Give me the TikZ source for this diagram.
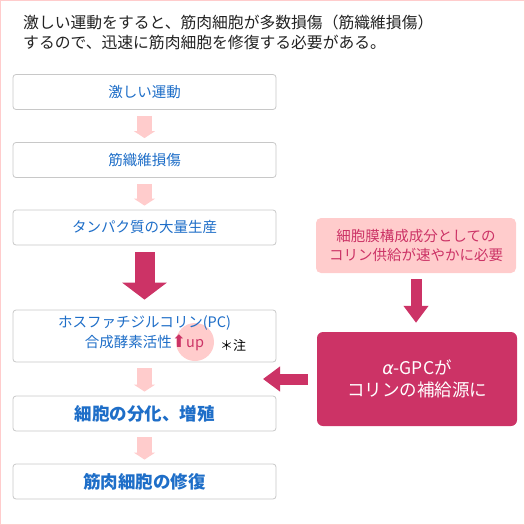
\documentclass[tikz,border=0pt]{standalone}
\usepackage{fontspec}
\setmainfont{Noto Sans CJK JP}
\newfontfamily\symfont{DejaVu Sans}
\usepackage{tikz}
\usetikzlibrary{arrows.meta, positioning}
\usepackage{xcolor}
\definecolor{zrose}{RGB}{204, 51, 102}
\definecolor{zpink}{RGB}{255, 204, 204}
\definecolor{zblue}{RGB}{30, 110, 200}
\definecolor{zline}{RGB}{200, 200, 200}
\definecolor{zink}{RGB}{34, 34, 34}

\begin{document}
\begin{tikzpicture}[x=1pt, y=-1pt,
  stepbox/.style={rectangle, rounded corners=3pt, draw=zline, fill=white, line width=0.8pt,
                  minimum width=263pt, minimum height=35pt, inner sep=0pt,
                  align=center, font=\fontsize{14.5}{20}\selectfont, text=zblue},
  keybox/.style={stepbox, font=\fontsize{17.5}{22}\selectfont\bfseries},
  needbox/.style={rectangle, rounded corners=5pt, fill=zpink,
                  minimum width=200pt, minimum height=55pt, inner sep=0pt,
                  align=center, font=\fontsize{14.5}{19}\selectfont, text=zrose},
  srcbox/.style={rectangle, rounded corners=6pt, fill=zrose,
                 minimum width=200pt, minimum height=94pt, inner sep=0pt,
                 align=center, font=\fontsize{17.5}{22}\selectfont, text=white},
  thinarr/.style={-{Triangle[width=21pt, length=7pt]}, line width=15pt, zpink},
  bigarr/.style={-{Triangle[width=44pt, length=17pt]}, line width=20pt, zrose},
  sidearr/.style={-{Triangle[width=24pt, length=17pt]}, line width=11pt, zrose}
]
\useasboundingbox (0,0) rectangle (525,525);
\draw[zpink, line width=1pt] (0.5,0.5) rectangle (524.5,524.5);

% Heading
\node[anchor=north west, inner sep=0pt, align=left, text=zink,
      font=\fontsize{15.8}{20}\selectfont] (head) at (23,15)
  {激しい運動をすると、筋肉細胞が多数損傷（筋織維損傷）\\するので、迅速に筋肉細胞を修復する必要がある。};

% Main vertical flow
\node[stepbox] (ex)   at (144.5,92)    {激しい運動};
\node[stepbox] (dmg)  at (144.5,160)   {筋織維損傷};
\node[stepbox] (prot) at (144.5,227.5) {タンパク質の大量生産};
\node[stepbox, minimum height=52pt] (pc) at (144.5,336) {};
\node[keybox]  (div)  at (144.5,413.5) {細胞の分化、増殖};
\node[keybox]  (rep)  at (144.5,481.5) {筋肉細胞の修復};

% PC box contents, mark behind "up"
\node[circle, fill=zpink, minimum size=38pt, inner sep=0pt] (upmark) at (195,342) {};
\node[align=center, inner sep=0pt, text=zblue, font=\fontsize{14.5}{20}\selectfont] (pctext) at (144.5,333)
  {ホスファチジルコリン(PC)\\合成酵素活性{\color{zrose}{\symfont\fontsize{17}{17}\selectfont ⬆}up}};
\node[inner sep=0pt, text=black, font=\fontsize{13}{13}\selectfont] (note) at (233,345) {＊注};

% Right column
\node[needbox] (need) at (416,245.5) {細胞膜構成成分としての\\コリン供給が速やかに必要};
\node[srcbox]  (agpc) at (417,379)   {{\symfont\itshape α}-GPCが\\コリンの補給源に};
\coordinate (gap) at (263,379);

% Arrows
\draw[thinarr, shorten <=6pt, shorten >=4pt] (ex) -- (dmg);
\draw[thinarr, shorten <=6pt, shorten >=4pt] (dmg) -- (prot);
\draw[bigarr, shorten <=7pt, shorten >=10pt] (prot) -- (pc);
\draw[thinarr, shorten <=6pt, shorten >=4pt] (pc) -- (div);
\draw[thinarr, shorten <=6pt, shorten >=4pt] (div) -- (rep);
\draw[sidearr, shorten <=6pt, shorten >=9pt] (need) -- (need |- agpc.north);
\draw[sidearr, shorten <=9pt] (agpc.west) -- (gap);

\end{tikzpicture}
\end{document}
